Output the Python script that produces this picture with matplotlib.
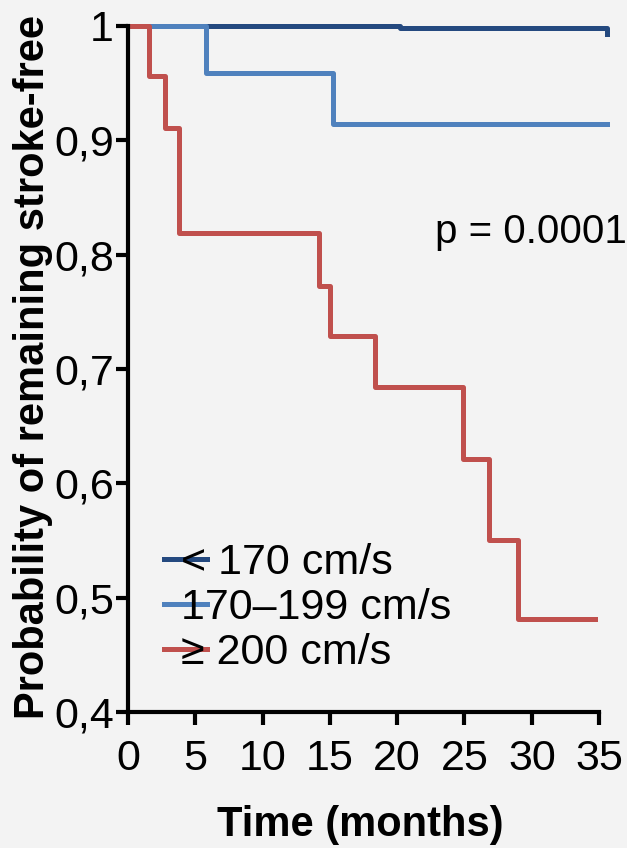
import numpy as np
import matplotlib.pyplot as plt

plt.rcParams['font.family'] = ['Liberation Sans', 'DejaVu Sans']

# Kaplan-Meier step data (time in months, survival probability)
t_low = [0, 20.2, 35.6]
s_low = [1.0, 0.998, 0.993]

t_mid = [0, 5.8, 15.2, 35.6]
s_mid = [1.0, 0.959, 0.914, 0.914]

t_high = [0, 1.6, 2.75, 3.8, 14.2, 15.0, 18.35, 24.9, 26.8, 29.0, 34.7]
s_high = [1.0, 0.956, 0.911, 0.819, 0.773, 0.729, 0.684, 0.621, 0.551, 0.482, 0.482]

labels = ['< 170 cm/s', '170\u2013199 cm/s', '\u2265 200 cm/s']
colors = ['#24497f', '#4f81bd', '#c0504d']

xticks = [0, 5, 10, 15, 20, 25, 30, 35]
yticks = [0.4, 0.5, 0.6, 0.7, 0.8, 0.9, 1.0]
ytick_labels = ['0,4', '0,5', '0,6', '0,7', '0,8', '0,9', '1']

fig = plt.figure(figsize=(6.27, 8.48), dpi=100)
fig.patch.set_facecolor('#f3f3f3')
ax = fig.add_axes([0.204, 0.160, 0.773, 0.823])
ax.set_facecolor('none')

for t, s, lab, c in zip([t_low, t_mid, t_high], [s_low, s_mid, s_high], labels, colors):
    ax.step(t, s, where='post', color=c, lw=3.6, label=lab, clip_on=False)

ax.set_xlim(0, 36)
ax.set_ylim(0.4, 1.01)
ax.spines['top'].set_visible(False)
ax.spines['right'].set_visible(False)
ax.spines['left'].set_linewidth(3)
ax.spines['bottom'].set_linewidth(3)
ax.spines['bottom'].set_bounds(0, 35)
ax.spines['left'].set_bounds(0.4, 1.0)
ax.set_xticks(xticks)
ax.set_yticks(yticks)
ax.set_yticklabels(ytick_labels)
ax.tick_params(axis='both', width=3, length=9, labelsize=31, direction='out')
ax.tick_params(axis='x', pad=10)
ax.tick_params(axis='y', pad=1)

ax.text(22.8, 0.82, 'p = 0.0001', fontsize=29, va='center', ha='left')

leg = ax.legend(loc='lower left', bbox_to_anchor=(0.074, 0.056), frameon=False,
                fontsize=31, handlelength=1.0, handletextpad=-0.6,
                labelspacing=0.12, borderpad=0, borderaxespad=0)

fig.text(0.053, 0.567, 'Probability of remaining stroke-free', rotation=90,
         fontsize=30, fontweight='bold', ha='center', va='center')
fig.text(0.574, 0.027, 'Time (months)', fontsize=30, fontweight='bold',
         ha='center', va='center')

fig.savefig('out.png', dpi=100, facecolor=fig.get_facecolor())
